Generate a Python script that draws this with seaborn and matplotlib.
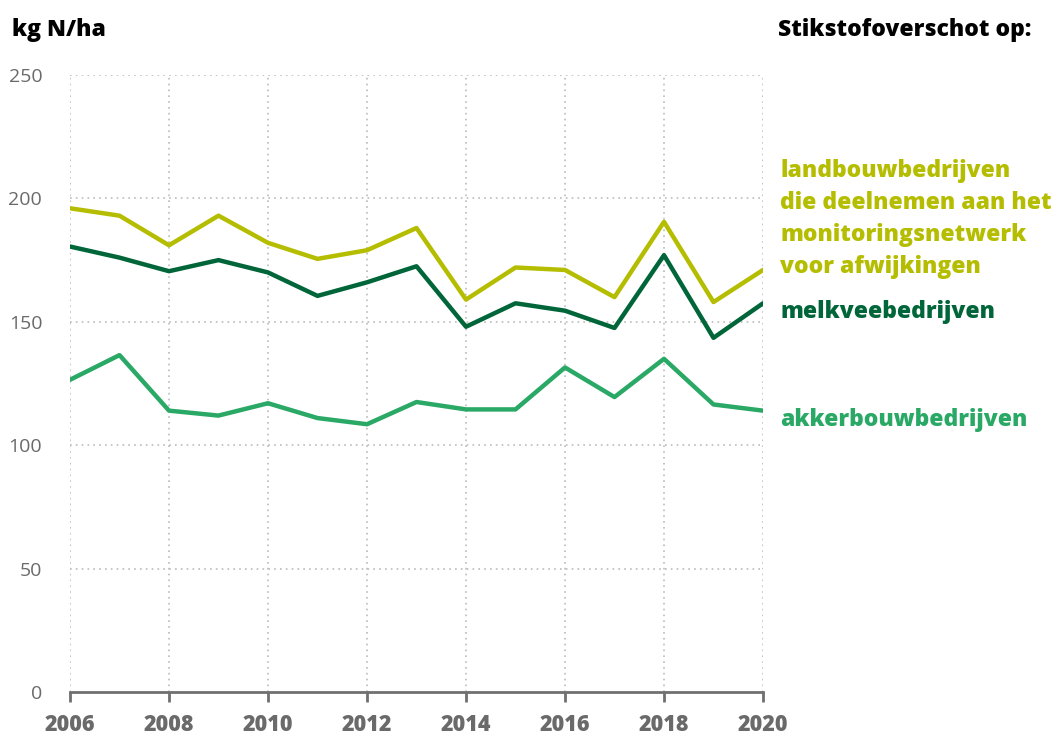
import numpy as np
import pandas as pd
import matplotlib
matplotlib.use("Agg")
import matplotlib.pyplot as plt
import seaborn as sns

years = list(range(2006, 2021))
landbouw = [196, 193, 181, 193, 182, 175.5, 179, 188, 159, 172, 171, 160, 190.5, 158, 171]
melkvee = [180.5, 176, 170.5, 175, 170, 160.5, 166, 172.5, 148, 157.5, 154.5, 147.5, 177, 143.5, 157.5]
akkerbouw = [126.5, 136.5, 114, 112, 117, 111, 108.5, 117.5, 114.5, 114.5, 131.5, 119.5, 135, 116.5, 114]

series_names = ["landbouw", "melkvee", "akkerbouw"]
colors = {"landbouw": "#b5bd00", "melkvee": "#00663a", "akkerbouw": "#2aa866"}

df = pd.DataFrame({
    "year": years * 3,
    "value": landbouw + melkvee + akkerbouw,
    "series": [s for s in series_names for _ in years],
})

sns.set_theme(style="white")
plt.rcParams['font.family'] = ['Open Sans', 'DejaVu Sans']

fig = plt.figure(figsize=(10.55, 7.38), dpi=100)
ax = fig.add_axes([70/1055, 46/738, (763-70)/1055, (692-75)/738])

sns.lineplot(data=df, x="year", y="value", hue="series", palette=colors,
             linewidth=3.2, ax=ax, legend=False, zorder=3)

ax.set_xlim(2006, 2020)
ax.set_ylim(0, 250)
ax.set_xticks(range(2006, 2021, 2))
ax.set_yticks(range(0, 251, 50))
ax.set_xlabel("")
ax.set_ylabel("")

for x in range(2006, 2021, 2):
    ax.axvline(x, color="#bbbbbb", linestyle=(0, (1, 2.5)), linewidth=1.2, zorder=1)
for y in range(50, 251, 50):
    ax.axhline(y, color="#bbbbbb", linestyle=(0, (1, 2.5)), linewidth=1.2, zorder=1)

for s in ["top", "right", "left"]:
    ax.spines[s].set_visible(False)
ax.spines["bottom"].set_color("#707070")
ax.spines["bottom"].set_linewidth(2)
ax.spines["bottom"].set_zorder(4)

ax.tick_params(axis="x", which="major", direction="out", length=7, width=2,
               color="#707070", labelsize=15.5, labelcolor="#6a6a6a", pad=8, bottom=True)
ax.tick_params(axis="y", length=0, labelsize=14, labelcolor="#6a6a6a", pad=20)
for lab in ax.get_xticklabels():
    lab.set_fontweight("heavy")

fig.text(12/1055, 1 - 30/738, "kg N/ha", fontsize=16.5, fontweight="heavy", color="black", va="center", ha="left")
fig.text(778/1055, 1 - 30/738, "Stikstofoverschot op:", fontsize=16.5, fontweight="heavy", color="black", va="center", ha="left")

fig.text(780/1055, 1 - 219/738,
         "landbouwbedrijven\ndie deelnemen aan het\nmonitoringsnetwerk\nvoor afwijkingen",
         fontsize=16.5, fontweight="heavy", color=colors["landbouw"], va="center", ha="left", linespacing=1.46)
fig.text(780/1055, 1 - 312/738, "melkveebedrijven", fontsize=16.5, fontweight="heavy",
         color=colors["melkvee"], va="center", ha="left")
fig.text(780/1055, 1 - 420/738, "akkerbouwbedrijven", fontsize=16.5, fontweight="heavy",
         color=colors["akkerbouw"], va="center", ha="left")

fig.savefig("out.png", dpi=100)
